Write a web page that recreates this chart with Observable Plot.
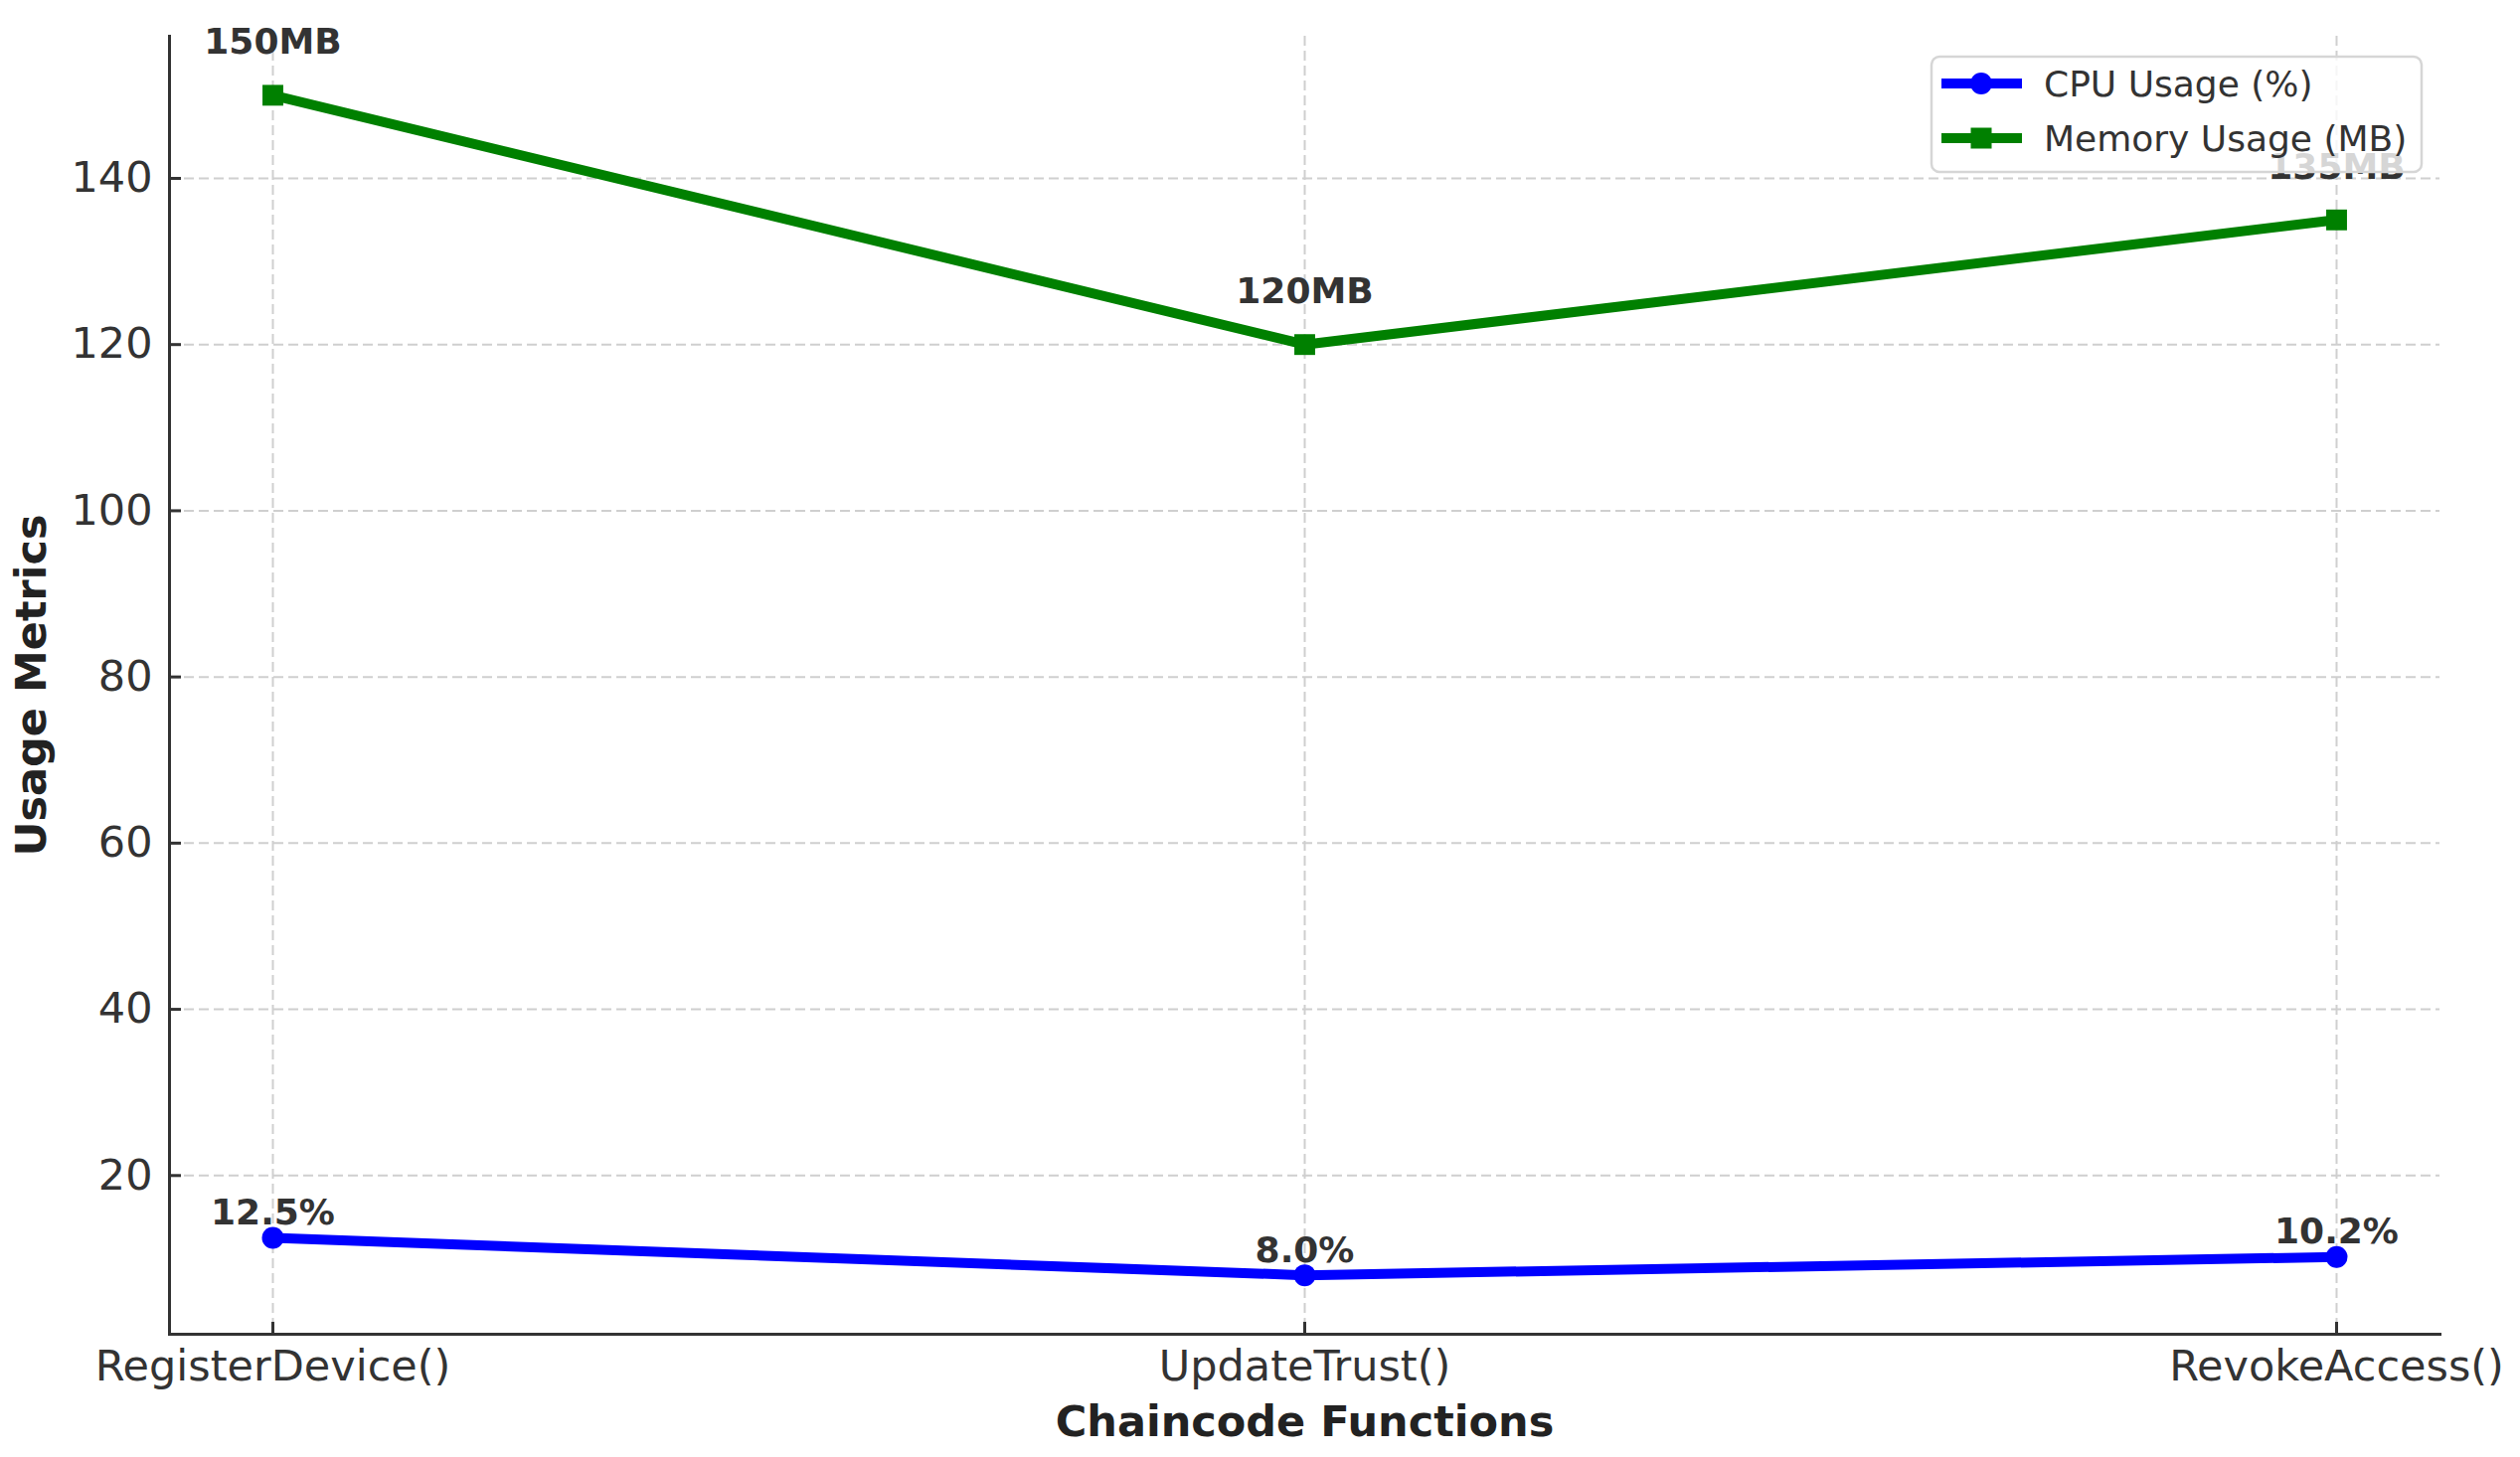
<!DOCTYPE html>
<html>
<head>
<meta charset="utf-8">
<script src="https://cdn.jsdelivr.net/npm/d3@7"></script>
<script src="https://cdn.jsdelivr.net/npm/@observablehq/plot@0.6"></script>
<style>
  html, body { margin: 0; padding: 0; background: #ffffff; }
  #chart { width: 2535px; height: 1466px; }
</style>
</head>
<body>
<div id="chart"></div>
<script>
const functions = ["RegisterDevice()", "UpdateTrust()", "RevokeAccess()"];
const cpuUsage = [12.5, 8.0, 10.2];
const memoryUsage = [150, 120, 135];
const cpuLabels = ["12.5%", "8.0%", "10.2%"];
const memLabels = ["150MB", "120MB", "135MB"];
const yTicks = [20, 40, 60, 80, 100, 120, 140];
const seriesNames = ["CPU Usage (%)", "Memory Usage (MB)"];
const seriesColors = ["#0000ff", "#008000"];

const cpuData = functions.map((f, i) => ({f, v: cpuUsage[i], label: cpuLabels[i]}));
const memData = functions.map((f, i) => ({f, v: memoryUsage[i], label: memLabels[i]}));

const textColor = "#333333";
const gridStyle = {stroke: "#cfcfcf", strokeOpacity: 1, strokeWidth: 2, strokeDasharray: "10,5"};

const svg = Plot.plot({
  width: 2535,
  height: 1466,
  marginLeft: 170,
  marginRight: 81,
  marginTop: 36,
  marginBottom: 124,
  style: {fontFamily: "DejaVu Sans", background: "#ffffff", color: textColor, overflow: "visible"},
  x: {type: "point", domain: functions, padding: 0.1, label: null},
  y: {domain: [0.9, 157.1], label: null},
  marks: [
    Plot.gridX(functions, gridStyle),
    Plot.gridY(yTicks, gridStyle),
    Plot.frame({anchor: "left", stroke: textColor, strokeWidth: 3}),
    Plot.frame({anchor: "bottom", stroke: textColor, strokeWidth: 3}),
    Plot.axisY(yTicks, {tickSize: -12, tickPadding: 29, strokeWidth: 3, fontSize: 43, label: null, color: textColor}),
    Plot.axisX(functions, {tickSize: -12, tickPadding: 28, strokeWidth: 3, fontSize: 43, label: null, color: textColor}),
    Plot.line(cpuData, {x: "f", y: "v", stroke: seriesColors[0], strokeWidth: 10}),
    Plot.dot(cpuData, {x: "f", y: "v", fill: seriesColors[0], r: 11, symbol: "circle"}),
    Plot.line(memData, {x: "f", y: "v", stroke: seriesColors[1], strokeWidth: 10}),
    Plot.dot(memData, {x: "f", y: "v", fill: seriesColors[1], r: 11.8, symbol: "square"}),
    Plot.text(cpuData, {x: "f", y: "v", text: "label", dy: -25, fontSize: 36, fontWeight: "bold", fill: textColor}),
    Plot.text(memData, {x: "f", y: "v", text: "label", dy: -53, fontSize: 36, fontWeight: "bold", fill: textColor}),
    Plot.text(["Usage Metrics"], {frameAnchor: "left", textAnchor: "middle", dx: -138, rotate: -90, fontSize: 43, fontWeight: "bold", fill: "#222222"}),
    Plot.text(["Chaincode Functions"], {frameAnchor: "bottom", dy: 102, fontSize: 43, fontWeight: "bold", fill: "#222222"})
  ]
});

// Legend (upper right, semi-transparent frame drawn on top)
const s = d3.select(svg);
const lg = s.append("g").attr("class", "legend").attr("font-family", "DejaVu Sans").attr("text-anchor", "start");
lg.append("rect")
  .attr("x", 1943).attr("y", 57).attr("width", 493).attr("height", 116)
  .attr("rx", 8).attr("ry", 8)
  .attr("fill", "#ffffff").attr("fill-opacity", 0.8)
  .attr("stroke", "#d6d6d6").attr("stroke-width", 2.5);
seriesNames.forEach((name, i) => {
  const cy = 84 + i * 55;
  lg.append("line").attr("x1", 1953).attr("x2", 2034).attr("y1", cy).attr("y2", cy)
    .attr("stroke", seriesColors[i]).attr("stroke-width", 10);
  if (i === 0) {
    lg.append("circle").attr("cx", 1993).attr("cy", cy).attr("r", 11).attr("fill", seriesColors[i]);
  } else {
    lg.append("rect").attr("x", 1993 - 10.5).attr("y", cy - 10.5).attr("width", 21).attr("height", 21).attr("fill", seriesColors[i]);
  }
  lg.append("text").attr("x", 2056).attr("y", cy).attr("dy", "0.35em")
    .attr("text-anchor", "start")
    .attr("font-size", 36).attr("fill", textColor).text(name);
});

document.getElementById("chart").appendChild(svg);
</script>
</body>
</html>
